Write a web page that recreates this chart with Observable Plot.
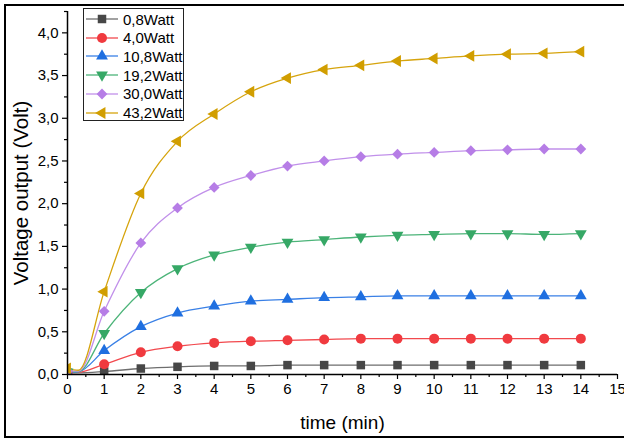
<!DOCTYPE html>
<html><head><meta charset="utf-8">
<script src="https://cdn.jsdelivr.net/npm/d3@7"></script>
<script src="https://cdn.jsdelivr.net/npm/@observablehq/plot@0.6"></script>
<style>
html,body{margin:0;padding:0;background:#fff;}
body{width:624px;height:439px;overflow:hidden;font-family:"Liberation Sans",Arial,sans-serif;}
#wrap{position:relative;width:624px;height:439px;}
#border{position:absolute;left:4px;top:4px;width:640px;height:430px;border:2px solid #000;pointer-events:none;}
#chart{position:absolute;left:0;top:0;}
#legend{position:absolute;left:83px;top:8px;width:99px;height:111px;border:1.5px solid #222;background:#fff;box-sizing:content-box;}
.row{position:absolute;left:0;height:18px;display:flex;align-items:center;}
.row span{font-size:15px;color:#000;margin-left:2px;white-space:nowrap;}
</style></head>
<body><div id="wrap"><div id="chart"></div><div id="legend"></div><div id="border"></div></div>
<script>
// ---- data ----
const times = [0,1,2,3,4,5,6,7,8,9,10,11,12,13,14];
const seriesNames = ["0,8Watt","4,0Watt","10,8Watt","19,2Watt","30,0Watt","43,2Watt"];
const v08  = [0.02,0.035,0.07,0.09,0.10,0.10,0.11,0.11,0.11,0.11,0.11,0.11,0.11,0.11,0.11];
const v40  = [0.02,0.12,0.26,0.33,0.37,0.39,0.40,0.41,0.42,0.42,0.42,0.42,0.42,0.42,0.42];
const v108 = [0.02,0.28,0.56,0.72,0.80,0.86,0.88,0.90,0.91,0.92,0.92,0.92,0.92,0.92,0.92];
const v192 = [0.03,0.48,0.96,1.24,1.40,1.49,1.55,1.58,1.61,1.63,1.64,1.65,1.65,1.64,1.65];
const v300 = [0.04,0.74,1.54,1.95,2.19,2.33,2.44,2.50,2.55,2.58,2.60,2.62,2.63,2.64,2.64];
const v432 = [0.07,0.97,2.12,2.73,3.05,3.31,3.47,3.57,3.62,3.67,3.70,3.73,3.75,3.76,3.78];
// value of each fitted line near the start of the rise (t = 0.3 min)
const earlyTime = 0.3;
const earlyValues = [0.02,0.025,0.03,0.035,0.04,0.05];
const yTicks = [0,0.5,1,1.5,2,2.5,3,3.5,4];
const yTickLabels = ["0,0","0,5","1,0","1,5","2,0","2,5","3,0","3,5","4,0"];
const yMinor = [0.25,0.75,1.25,1.75,2.25,2.75,3.25,3.75,4.25];
const xTicks = [0,1,2,3,4,5,6,7,8,9,10,11,12,13,14,15];
const xMinor = [0.5,1.5,2.5,3.5,4.5,5.5,6.5,7.5,8.5,9.5,10.5,11.5,12.5,13.5,14.5];
const yLabel = "Voltage output (Volt)";
const xLabel = "time (min)";

// ---- styles ----
const markerColors = ["#474747","#f03a3f","#1f6fe0","#36a866","#b67de6","#d19e00"];
const lineColors   = ["#6e6e6e","#f2494e","#3a80e6","#4cb479","#c190ea","#d6a40d"];
const symbols = ["square","circle","triangle","triangle","square","triangle"];
const rotations = [0,0,0,180,45,-90];
const radii = [4.8,5,4.4,4.4,4.3,4.4];

const allValues = [v08,v40,v108,v192,v300,v432];
const marks = [];
allValues.forEach((vals, k) => {
  const pts = times.map((t,i) => ({t, v: vals[i]}));
  const linePts = [pts[0], {t: earlyTime, v: earlyValues[k]}, ...pts.slice(1)];
  marks.push(Plot.line(linePts, {x:"t", y:"v", stroke: lineColors[k], strokeWidth: 1.3, curve: "monotone-x", clip: true}));
});
allValues.forEach((vals, k) => {
  const pts = times.map((t,i) => ({t, v: vals[i]}));
  marks.push(Plot.dot(pts, {x:"t", y:"v", fill: markerColors[k], stroke: "none", symbol: symbols[k], r: radii[k], rotate: rotations[k], clip: true}));
});

const fmtY = d => yTickLabels[yTicks.indexOf(d)];

const chart = Plot.plot({
  width: 624, height: 439,
  marginLeft: 67, marginRight: 7, marginTop: 11, marginBottom: 65,
  style: {fontFamily: "'Liberation Sans', Arial, sans-serif", fontSize: "15px", color: "#000", background: "transparent"},
  x: {domain: [0, 15]},
  y: {domain: [0, 4.25]},
  marks: [
    ...marks,
    Plot.axisY({ticks: yTicks, tickFormat: fmtY, tickSize: 5, tickPadding: 4, label: null, stroke: "#000", strokeWidth: 1.2, fontSize: 15}),
    Plot.axisY({ticks: yMinor, tickFormat: () => "", tickSize: 3, label: null, stroke: "#000", strokeWidth: 1.2}),
    Plot.axisX({ticks: xTicks, tickFormat: d => String(d), tickSize: 5, tickPadding: 4, label: null, stroke: "#000", strokeWidth: 1.2, fontSize: 15}),
    Plot.axisX({ticks: xMinor, tickFormat: () => "", tickSize: 3, label: null, stroke: "#000", strokeWidth: 1.2}),
    Plot.ruleX([0], {stroke: "#000", strokeWidth: 1.5}),
    Plot.ruleY([0], {stroke: "#000", strokeWidth: 1.5}),
    Plot.text([yLabel], {text: d => d, frameAnchor: "left", textAnchor: "middle", lineAnchor: "middle", dx: -46, rotate: -90, fontSize: 20.5, fill: "#000"}),
    Plot.text([xLabel], {text: d => d, frameAnchor: "bottom", textAnchor: "middle", lineAnchor: "middle", dy: 48, fontSize: 19, fill: "#000"})
  ]
});
document.getElementById("chart").appendChild(chart);

// ---- legend ----
const legend = document.getElementById("legend");
const rowYs = [1, 19.7, 38.4, 57.1, 75.8, 94.5];
seriesNames.forEach((name, k) => {
  const row = document.createElement("div");
  row.className = "row";
  row.style.top = rowYs[k] + "px";
  const ns = "http://www.w3.org/2000/svg";
  const svg = document.createElementNS(ns, "svg");
  svg.setAttribute("width", 37); svg.setAttribute("height", 18);
  const ln = document.createElementNS(ns, "line");
  ln.setAttribute("x1", 2); ln.setAttribute("x2", 34); ln.setAttribute("y1", 9); ln.setAttribute("y2", 9);
  ln.setAttribute("stroke", lineColors[k]); ln.setAttribute("stroke-width", 1.3);
  svg.appendChild(ln);
  const typeMap = {square: d3.symbolSquare, circle: d3.symbolCircle, triangle: d3.symbolTriangle};
  const p = document.createElementNS(ns, "path");
  p.setAttribute("d", d3.symbol(typeMap[symbols[k]], Math.PI * radii[k] * radii[k])());
  p.setAttribute("fill", markerColors[k]);
  p.setAttribute("transform", `translate(18,9) rotate(${rotations[k]})`);
  svg.appendChild(p);
  row.appendChild(svg);
  const sp = document.createElement("span");
  sp.textContent = name;
  row.appendChild(sp);
  legend.appendChild(row);
});
</script>
</body></html>
